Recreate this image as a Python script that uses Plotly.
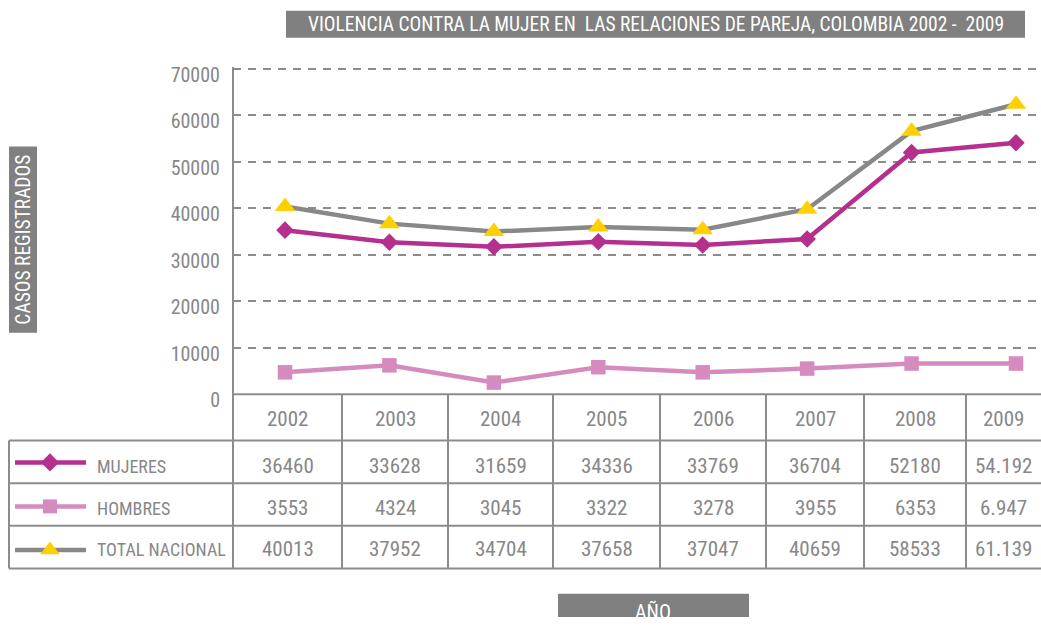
import plotly.graph_objects as go

# ---------------- data ----------------
years = ["2002", "2003", "2004", "2005", "2006", "2007", "2008", "2009"]
# values as plotted
mujeres = [35300, 32700, 31700, 32800, 32100, 33400, 52000, 54100]
hombres = [4700, 6200, 2500, 5800, 4700, 5500, 6600, 6600]
total = [40400, 36700, 35000, 36000, 35400, 39800, 56600, 62400]
# values as printed in the data table
tbl_mujeres = ["36460", "33628", "31659", "34336", "33769", "36704", "52180", "54.192"]
tbl_hombres = ["3553", "4324", "3045", "3322", "3278", "3955", "6353", "6.947"]
tbl_total = ["40013", "37952", "34704", "37658", "37047", "40659", "58533", "61.139"]
series_names = ["MUJERES", "HOMBRES", "TOTAL NACIONAL"]
y_ticks = [0, 10000, 20000, 30000, 40000, 50000, 60000, 70000]

title_text = "VIOLENCIA CONTRA LA MUJER EN  LAS RELACIONES DE PAREJA, COLOMBIA 2002 -  2009"
ytitle_text = "CASOS REGISTRADOS"
xtitle_text = "AÑO"

# ---------------- style / layout ----------------
W, H = 1041, 635
FONT = "Liberation Sans Narrow, Arial Narrow, Roboto Condensed, DejaVu Sans Condensed, Liberation Sans, sans-serif"
TXT = "#878787"
GRID = "#8c8c8c"
BOX = "#808080"
C_MUJ = "#b5308e"
C_HOM = "#d68bbf"
C_TOT = "#888888"
C_TRI = "#ffd000"

PLOT_L, PLOT_R = 233, 1041
Y0_PX, Y70_PX = 405.3, 70.0          # pixel rows of 0 and 70000
Y_MAX = 71000                         # a little headroom so the 70000 gridline is drawn
px_per_unit = (Y0_PX - Y70_PX) / 70000
PLOT_T = Y0_PX - Y_MAX * px_per_unit
PLOT_B = Y0_PX

col_edges = [233, 342, 448, 553, 660, 766, 864, 966, 1041]
row_edges = [405.5, 453, 497, 541, 585]
row_text_y = [430.5, 479.5, 523, 565]
legend_line_y = [475.7, 521, 566]

fig = go.Figure()

# main series
fig.add_trace(go.Scatter(x=years, y=hombres, mode="lines+markers",
                         line=dict(color=C_HOM, width=4.5),
                         marker=dict(symbol="square", size=14.5, color=C_HOM),
                         cliponaxis=False, hoverinfo="skip"))
fig.add_trace(go.Scatter(x=years, y=mujeres, mode="lines+markers",
                         line=dict(color=C_MUJ, width=4.5),
                         marker=dict(symbol="diamond", size=13.5, color=C_MUJ),
                         cliponaxis=False, hoverinfo="skip"))
fig.add_trace(go.Scatter(x=years, y=total, mode="lines+markers",
                         line=dict(color=C_TOT, width=4.5),
                         marker=dict(symbol="triangle-up", size=18, color=C_TRI),
                         cliponaxis=False, hoverinfo="skip"))

# legend keys inside the table (pixel overlay axes)
key_styles = [
    (C_MUJ, dict(symbol="diamond", size=14, color=C_MUJ)),
    (C_HOM, dict(symbol="square", size=14, color=C_HOM)),
    (C_TOT, dict(symbol="triangle-up", size=17, color=C_TRI)),
]
for (lc, mk), yk in zip(key_styles, legend_line_y):
    fig.add_trace(go.Scatter(x=[15, 86], y=[yk, yk], mode="lines",
                             line=dict(color=lc, width=4.5),
                             xaxis="x2", yaxis="y2", hoverinfo="skip", cliponaxis=False))
    fig.add_trace(go.Scatter(x=[50], y=[yk], mode="markers", marker=mk,
                             xaxis="x2", yaxis="y2", hoverinfo="skip", cliponaxis=False))

shapes = []
def pline(x0, y0, x1, y1, color=GRID, width=2):
    shapes.append(dict(type="line", xref="x2", yref="y2", x0=x0, y0=y0, x1=x1, y1=y1,
                       line=dict(color=color, width=width)))

# table grid + vertical value axis line
pline(col_edges[0], row_edges[0], W, row_edges[0])
for ry in row_edges[1:]:
    pline(9, ry, W, ry)
pline(9, row_edges[1], 9, row_edges[-1])
pline(col_edges[0], Y70_PX - 2, col_edges[0], row_edges[-1])
for cx in col_edges[1:-1]:
    pline(cx, row_edges[0], cx, row_edges[-1])

# title boxes
shapes.append(dict(type="rect", xref="x2", yref="y2", x0=286, y0=10, x1=1025, y1=38,
                   fillcolor=BOX, line=dict(width=0), layer="below"))
shapes.append(dict(type="rect", xref="x2", yref="y2", x0=9, y0=150, x1=37, y1=342,
                   fillcolor=BOX, line=dict(width=0), layer="below"))
shapes.append(dict(type="rect", xref="x2", yref="y2", x0=558, y0=611, x1=749, y1=640,
                   fillcolor=BOX, line=dict(width=0), layer="below"))

annotations = []
def ann(x, y, text, size, color=TXT, xanchor="center", textangle=0):
    annotations.append(dict(x=x, y=y, xref="x2", yref="y2", text=text, showarrow=False,
                            xanchor=xanchor, yanchor="middle", textangle=textangle,
                            font=dict(family=FONT, size=size, color=color)))

ann(655.5, 24.5, title_text, 19.5, color="white")
ann(24, 246, ytitle_text, 19.5, color="white", textangle=-90)
ann(653, 630, xtitle_text, 20, color="white")

centers = [(col_edges[i] + col_edges[i + 1]) / 2 for i in range(len(years))]
for cx, yr in zip(centers, years):
    ann(cx, row_text_y[0], yr, 21)
for row, yy in zip([tbl_mujeres, tbl_hombres, tbl_total], row_text_y[1:]):
    for cx, v in zip(centers, row):
        ann(cx, yy, v, 21)
for name, yy in zip(series_names, row_text_y[1:]):
    ann(95, yy, name, 18, xanchor="left")

n = len(years)
x0_px, x_step = 285, (1016 - 285) / (n - 1)
xr = [(PLOT_L - x0_px) / x_step, (PLOT_R - x0_px) / x_step]

fig.update_layout(
    autosize=True,
    margin=dict(l=0, r=0, t=0, b=0, pad=0),
    paper_bgcolor="white", plot_bgcolor="rgba(0,0,0,0)",
    showlegend=False, hovermode=False,
    font=dict(family=FONT, color=TXT),
    xaxis=dict(domain=[PLOT_L / W, PLOT_R / W], type="category", range=xr,
               showgrid=False, zeroline=False, showticklabels=False, showline=False,
               fixedrange=True),
    yaxis=dict(domain=[1 - PLOT_B / H, 1 - PLOT_T / H], range=[0, Y_MAX],
               tickvals=y_ticks, ticktext=[str(v) for v in y_ticks],
               showgrid=True, gridcolor=GRID, gridwidth=2, griddash="8px,7px",
               zeroline=False, showline=False, ticks="",
               ticklabelstandoff=12, ticklabelshift=6,
               tickfont=dict(family=FONT, size=20, color=TXT), fixedrange=True),
    xaxis2=dict(domain=[0, 1], range=[0, W], visible=False, anchor="y2", fixedrange=True),
    yaxis2=dict(domain=[0, 1], range=[H, 0], visible=False, anchor="x2", fixedrange=True),
    shapes=shapes, annotations=annotations,
)

post = (
    "var gd=document.getElementById('{plot_id}');"
    "document.documentElement.style.cssText='margin:0;padding:0;height:100%;overflow:hidden;';"
    "document.body.style.cssText='margin:0;padding:0;height:100%;overflow:hidden;';"
    "if(gd.parentElement){gd.parentElement.style.height='100%';gd.parentElement.style.width='100%';}"
    "gd.style.width='100%';gd.style.height='100%';"
    "Plotly.Plots.resize(gd);"
)
fig.write_html("out.html", config={"displayModeBar": False, "responsive": True},
               default_width="100vw", default_height="100vh", post_script=post)
